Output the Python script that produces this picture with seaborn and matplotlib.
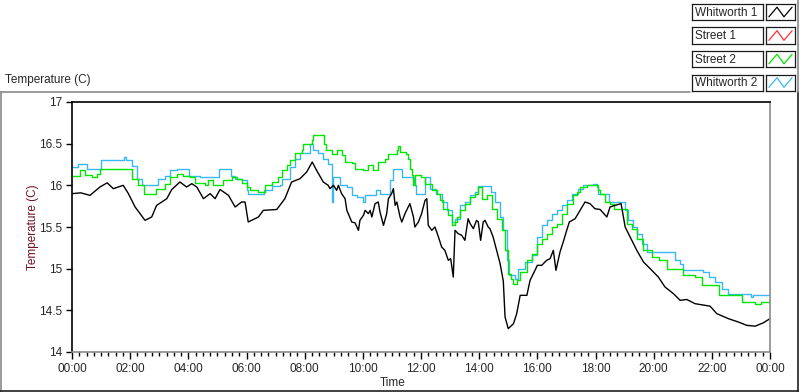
import numpy as np
import pandas as pd
import matplotlib
matplotlib.use("Agg")
import matplotlib.pyplot as plt
from matplotlib.lines import Line2D
from matplotlib.ticker import MultipleLocator
import seaborn as sns

# -------------------------
# Data (hours since midnight, temperature in C)
# -------------------------
whitworth1_t = [0.0, 0.3, 0.62, 0.96, 1.21, 1.42, 1.76, 1.94, 2.17, 2.51, 2.74, 2.91, 3.26, 3.43,
                3.71, 3.94, 4.12, 4.29, 4.52, 4.75, 4.92, 5.09, 5.38, 5.61, 5.83, 5.95, 6.06, 6.41,
                6.58, 7.04, 7.32, 7.55, 7.84, 8.07, 8.26, 8.41, 8.64, 8.81, 8.87, 8.99, 9.10, 9.16,
                9.27, 9.39, 9.45, 9.62, 9.73, 9.85, 9.90, 10.02, 10.08, 10.19, 10.25, 10.31, 10.42,
                10.53, 10.59, 10.71, 10.82, 10.88, 10.99, 11.05, 11.11, 11.17, 11.28, 11.34, 11.45,
                11.56, 11.62, 11.74, 11.79, 11.91, 12.02, 12.14, 12.20, 12.25, 12.37, 12.48, 12.60,
                12.71, 12.82, 12.94, 13.02, 13.11, 13.17, 13.28, 13.40, 13.51, 13.62, 13.69, 13.80,
                13.91, 13.97, 14.05, 14.14, 14.20, 14.31, 14.37, 14.48, 14.60, 14.72, 14.83, 14.89,
                15.00, 15.18, 15.29, 15.41, 15.64, 15.75, 15.92, 16.00, 16.15, 16.32, 16.44, 16.55,
                16.64, 16.78, 16.89, 17.01, 17.10, 17.30, 17.47, 17.64, 17.81, 17.98, 18.16, 18.39,
                18.50, 18.67, 18.88, 19.02, 19.19, 19.42, 19.65, 19.88, 20.16, 20.39, 20.68, 20.91,
                21.14, 21.42, 21.94, 22.17, 22.57, 22.91, 23.20, 23.49, 23.77, 24.0]
whitworth1_v = [15.90, 15.91, 15.88, 15.98, 16.03, 15.96, 16.00, 15.90, 15.74, 15.58, 15.62, 15.76,
                15.84, 15.95, 16.04, 15.98, 16.02, 15.98, 15.84, 15.90, 15.84, 15.95, 15.88, 15.74,
                15.80, 15.80, 15.56, 15.62, 15.70, 15.71, 15.84, 16.04, 16.08, 16.16, 16.28, 16.18,
                16.04, 16.00, 15.96, 16.00, 15.94, 16.00, 15.90, 15.84, 15.70, 15.56, 15.55, 15.46,
                15.58, 15.64, 15.70, 15.66, 15.70, 15.62, 15.78, 15.80, 15.68, 15.52, 15.66, 15.84,
                15.90, 15.96, 15.76, 15.80, 15.62, 15.56, 15.66, 15.74, 15.78, 15.62, 15.50, 15.56,
                15.66, 15.82, 15.84, 15.52, 15.46, 15.50, 15.38, 15.26, 15.22, 15.10, 15.12, 14.90,
                15.46, 15.42, 15.40, 15.34, 15.60, 15.54, 15.48, 15.58, 15.56, 15.34, 15.56, 15.58,
                15.50, 15.48, 15.38, 15.22, 15.06, 14.85, 14.42, 14.28, 14.34, 14.46, 14.68, 14.68,
                14.86, 14.98, 15.04, 15.04, 15.10, 15.12, 15.22, 14.98, 15.20, 15.32, 15.46, 15.56,
                15.60, 15.70, 15.80, 15.78, 15.72, 15.71, 15.62, 15.74, 15.76, 15.78, 15.50, 15.38,
                15.22, 15.08, 15.00, 14.90, 14.78, 14.70, 14.62, 14.63, 14.58, 14.55, 14.46, 14.40,
                14.36, 14.32, 14.31, 14.35, 14.40]

street1_t = []
street1_v = []

street2_t = [0.0, 0.28, 0.45, 0.68, 0.85, 0.96, 2.05, 2.28, 2.48, 2.90, 3.20, 3.37, 3.60, 3.83,
             4.06, 4.23, 4.57, 4.69, 4.86, 5.20, 5.49, 5.66, 5.83, 6.00, 6.12, 6.41, 6.64, 6.87,
             7.09, 7.21, 7.38, 7.50, 7.67, 7.90, 7.95, 8.24, 8.30, 8.68, 8.75, 8.95, 9.10, 9.27,
             9.39, 9.62, 9.73, 10.02, 10.19, 10.36, 10.53, 10.76, 10.88, 11.17, 11.22, 11.28,
             11.50, 11.56, 11.62, 11.68, 11.74, 11.80, 12.00, 12.14, 12.37, 12.54, 12.65, 12.77,
             12.94, 13.06, 13.17, 13.25, 13.34, 13.51, 13.69, 13.86, 13.97, 14.09, 14.26, 14.43,
             14.60, 14.78, 14.89, 15.00, 15.09, 15.18, 15.29, 15.41, 15.64, 15.81, 15.98, 16.15,
             16.32, 16.49, 16.67, 16.84, 17.01, 17.22, 17.36, 17.47, 17.70, 18.10, 18.16, 18.33,
             18.50, 18.62, 19.07, 19.25, 19.42, 19.65, 19.93, 20.20, 20.45, 21.02, 21.42, 21.65,
             22.23, 23.03, 23.49, 23.70, 24.0]
street2_v = [16.11, 16.18, 16.12, 16.10, 16.14, 16.19, 16.08, 16.00, 15.89, 15.96, 16.02, 16.10,
             16.14, 16.11, 16.10, 16.03, 16.00, 16.06, 16.00, 16.07, 16.10, 16.08, 16.03, 15.98,
             15.94, 15.92, 16.00, 16.04, 16.10, 16.18, 16.24, 16.30, 16.39, 16.42, 16.50, 16.54,
             16.60, 16.50, 16.42, 16.38, 16.42, 16.36, 16.28, 16.27, 16.19, 16.18, 16.24, 16.18,
             16.28, 16.32, 16.38, 16.42, 16.47, 16.40, 16.38, 16.32, 16.20, 16.12, 16.00, 16.12,
             16.10, 16.02, 15.94, 15.90, 15.82, 15.72, 15.64, 15.52, 15.56, 15.62, 15.70, 15.78,
             15.86, 15.90, 15.98, 15.84, 15.88, 15.72, 15.60, 15.46, 15.22, 14.94, 14.88, 14.82,
             14.86, 14.96, 15.10, 15.18, 15.30, 15.36, 15.42, 15.50, 15.54, 15.66, 15.78, 15.88,
             15.92, 15.98, 16.00, 15.94, 15.90, 15.80, 15.78, 15.71, 15.54, 15.48, 15.36, 15.22,
             15.14, 15.10, 15.00, 14.92, 14.90, 14.80, 14.69, 14.60, 14.58, 14.60, 14.60]

whitworth2_t = [0.0, 0.22, 0.5, 1.0, 1.80, 1.86, 2.05, 2.22, 2.40, 2.95, 3.20, 3.37, 3.60, 4.03,
                4.40, 5.07, 5.45, 5.60, 5.83, 6.00, 6.06, 6.60, 6.87, 7.15, 7.21, 7.50, 7.67, 7.84,
                8.20, 8.30, 8.45, 8.64, 8.81, 8.93, 8.95, 8.97, 9.20, 9.45, 9.62, 9.80, 10.00, 10.08,
                10.45, 10.60, 10.95, 11.05, 11.35, 11.75, 11.82, 12.14, 12.31, 12.50, 12.71, 12.88,
                13.06, 13.17, 13.34, 13.51, 13.69, 13.86, 13.97, 14.40, 14.55, 14.72, 14.83, 14.95,
                15.04, 15.23, 15.35, 15.58, 15.81, 15.98, 16.15, 16.32, 16.49, 16.67, 16.84, 17.01,
                17.18, 17.41, 17.58, 17.93, 18.04, 18.10, 18.45, 19.00, 19.13, 19.30, 19.42, 19.59,
                19.76, 20.72, 20.90, 21.02, 21.70, 21.90, 22.10, 22.35, 22.55, 23.33, 23.40, 24.0]
whitworth2_v = [16.22, 16.26, 16.19, 16.30, 16.34, 16.30, 16.23, 16.08, 16.00, 16.08, 16.11, 16.18,
                16.20, 16.11, 16.10, 16.19, 16.11, 16.08, 16.06, 15.94, 15.90, 15.94, 15.99, 16.00,
                16.08, 16.22, 16.32, 16.39, 16.50, 16.42, 16.39, 16.32, 16.26, 16.18, 15.80, 16.10,
                16.00, 15.98, 15.88, 15.86, 15.80, 15.88, 15.95, 15.90, 16.06, 16.19, 16.10, 16.00,
                15.89, 16.10, 15.96, 15.90, 15.80, 15.70, 15.56, 15.60, 15.76, 15.80, 15.88, 15.92,
                15.99, 15.92, 15.80, 15.62, 15.46, 15.10, 14.92, 14.88, 15.00, 15.08, 15.16, 15.38,
                15.52, 15.59, 15.66, 15.70, 15.76, 15.82, 15.90, 15.96, 16.00, 16.01, 15.98, 15.90,
                15.80, 15.70, 15.58, 15.50, 15.42, 15.30, 15.20, 15.10, 15.06, 14.99, 14.96, 14.90,
                14.84, 14.76, 14.70, 14.66, 14.69, 14.69]

series_names = ["Whitworth 1", "Street 1", "Street 2", "Whitworth 2"]
series_colors = ["#000000", "#ff3030", "#00e600", "#38b8f2"]
series_data = [(whitworth1_t, whitworth1_v, "default"),
               (street1_t, street1_v, "default"),
               (street2_t, street2_v, "steps-post"),
               (whitworth2_t, whitworth2_v, "steps-post")]

x_ticks = [0, 2, 4, 6, 8, 10, 12, 14, 16, 18, 20, 22, 24]
x_tick_labels = ["00:00", "02:00", "04:00", "06:00", "08:00", "10:00", "12:00",
                 "14:00", "16:00", "18:00", "20:00", "22:00", "00:00"]
y_ticks = [14, 14.5, 15, 15.5, 16, 16.5, 17]
y_tick_labels = ["14", "14.5", "15", "15.5", "16", "16.5", "17"]

# -------------------------
# Figure
# -------------------------
sns.set_style("white")
plt.rcParams["font.family"] = ["Liberation Sans", "DejaVu Sans"]
FS = 8.5

W, H = 800, 392
fig = plt.figure(figsize=(8, 3.92), dpi=100)


def fx(x):
    return x / W


def fy(y):
    return 1 - y / H


ax = fig.add_axes([fx(72), fy(352), (770 - 72) / W, (352 - 102) / H])

# draw the lines (blue first, then green, black on top)
for i in [3, 2, 1, 0]:
    t, v, ds = series_data[i]
    if len(t) == 0:
        continue
    df = pd.DataFrame({"t": t, "v": v})
    sns.lineplot(data=df, x="t", y="v", ax=ax, color=series_colors[i],
                 linewidth=1.0, drawstyle=ds, estimator=None, sort=False)

ax.set_xlim(0, 24)
ax.set_ylim(14, 17)
ax.set_xticks(x_ticks)
ax.set_xticklabels(x_tick_labels, fontsize=FS)
ax.set_yticks(y_ticks)
ax.set_yticklabels(y_tick_labels, fontsize=FS)
ax.xaxis.set_minor_locator(MultipleLocator(0.25))
ax.tick_params(axis="x", which="major", direction="out", length=5, width=1,
               color="black", pad=3, bottom=True)
ax.tick_params(axis="x", which="minor", direction="out", length=3, width=1,
               color="black", bottom=True)
ax.tick_params(axis="y", which="major", direction="out", length=4, width=1,
               color="black", pad=3, left=True)

for side in ["left", "top"]:
    ax.spines[side].set_color("black")
    ax.spines[side].set_linewidth(1.2)
for side in ["right", "bottom"]:
    ax.spines[side].set_color("#8a8a8a")
    ax.spines[side].set_linewidth(1.2)

ax.set_xlabel("Time", fontsize=FS)
ax.set_ylabel("Temperature (C)", fontsize=FS, color="#6e1020")
ax.xaxis.set_label_coords(0.459, -0.102)
ax.yaxis.set_label_coords(-0.047, 0.5)

# header text and frame
fig.text(fx(5), fy(80), "Temperature (C)", fontsize=FS, va="center", ha="left")
frame_lines = [((0, 690), (92, 92), "#8a8a8a"),
               ((0.5, 0.5), (92, 392), "#8a8a8a"),
               ((0, 798), (391, 391), "#202020"),
               ((797.5, 797.5), (92, 392), "#202020"),
               ((798, 798), (0, 92), "#8a8a8a")]
for xs, ys, c in frame_lines:
    fig.add_artist(Line2D([fx(xs[0]), fx(xs[1])], [fy(ys[0]), fy(ys[1])],
                          transform=fig.transFigure, color=c, linewidth=1.2))

# legend boxes
row_tops = [4, 27.5, 51, 74.5]
for name, color, top in zip(series_names, series_colors, row_tops):
    lab = fig.add_axes([fx(692), fy(top + 16), 71 / W, 16 / H])
    lab.set_xticks([])
    lab.set_yticks([])
    for s in lab.spines.values():
        s.set_color("#1a1a1a")
        s.set_linewidth(0.9)
    lab.text(0.04, 0.45, name, fontsize=FS, va="center", ha="left", transform=lab.transAxes)

    sw = fig.add_axes([fx(766), fy(top + 16), 29 / W, 16 / H])
    sw.set_xticks([])
    sw.set_yticks([])
    for s in sw.spines.values():
        s.set_color("#1a1a1a")
        s.set_linewidth(0.9)
    sw.plot([0.1, 0.38, 0.62, 0.9], [0.2, 0.8, 0.2, 0.8], color=color, linewidth=0.9)
    sw.set_xlim(0, 1)
    sw.set_ylim(0, 1)

plt.savefig("out.png", dpi=100)
